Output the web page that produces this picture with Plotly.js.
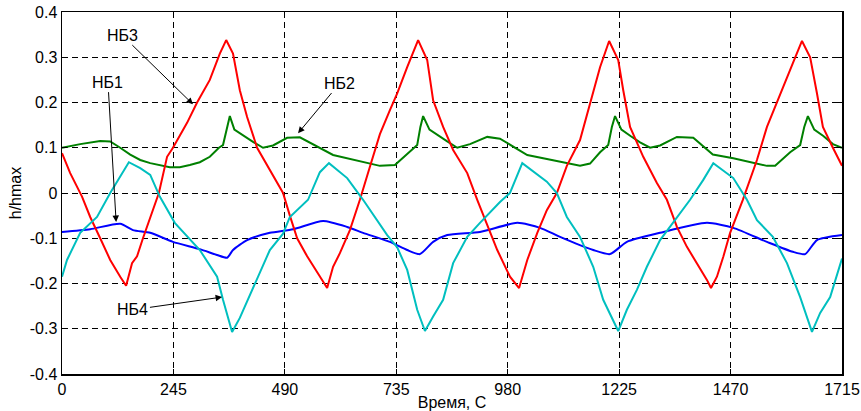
<!DOCTYPE html>
<html><head><meta charset="utf-8">
<script src="https://cdn.plot.ly/plotly-3.0.1.min.js"></script>
<style>html,body{margin:0;padding:0;background:#fff}#chart{width:861px;height:411px}</style>
</head><body><div id="chart"></div>
<script>
// НБ1 (blue)
const nb1X = [0,62,128,156,194,244,303,341,363,376,407,457,508,574,627,662,721,759,787,816,847,919,1001,1051,1095,1168,1205,1242,1315,1418,1476,1550,1607,1634,1660,1715];
const nb1Y = [-0.086,-0.080,-0.068,-0.082,-0.088,-0.108,-0.124,-0.137,-0.143,-0.126,-0.104,-0.088,-0.080,-0.062,-0.075,-0.088,-0.108,-0.126,-0.135,-0.108,-0.093,-0.086,-0.066,-0.077,-0.097,-0.126,-0.135,-0.108,-0.088,-0.066,-0.077,-0.108,-0.130,-0.135,-0.104,-0.093];
// НБ2 (green)
const nb2X = [0,40,84,106,128,150,172,194,237,259,281,303,325,345,354,363,369,379,396,420,442,464,495,523,596,699,732,752,772,781,788,794,808,828,847,869,897,935,963,1023,1117,1139,1161,1183,1201,1209,1216,1230,1250,1271,1293,1315,1352,1388,1431,1476,1550,1568,1601,1623,1632,1640,1654,1674,1695,1715];
const nb2Y = [0.100,0.108,0.115,0.114,0.100,0.085,0.073,0.066,0.057,0.057,0.062,0.068,0.080,0.100,0.106,0.146,0.170,0.140,0.128,0.113,0.100,0.105,0.122,0.123,0.084,0.060,0.062,0.080,0.100,0.106,0.146,0.170,0.140,0.126,0.114,0.100,0.108,0.124,0.120,0.084,0.065,0.060,0.065,0.090,0.106,0.146,0.170,0.140,0.126,0.112,0.100,0.105,0.124,0.122,0.085,0.077,0.060,0.060,0.090,0.106,0.146,0.170,0.140,0.126,0.108,0.100];
// НБ3 (red)
const nb3X = [0,18,44,62,84,106,128,141,154,165,178,200,213,231,244,275,297,325,347,361,376,391,407,429,457,486,501,517,539,561,583,596,611,633,655,677,699,721,737,759,783,803,816,838,860,891,913,957,985,1005,1023,1045,1066,1088,1110,1139,1168,1183,1203,1223,1234,1249,1278,1308,1330,1352,1374,1396,1418,1427,1440,1454,1469,1497,1528,1550,1579,1607,1627,1645,1660,1673,1695,1715];
const nb3Y = [0.088,0.044,-0.008,-0.053,-0.100,-0.148,-0.185,-0.205,-0.155,-0.140,-0.100,-0.038,0.000,0.080,0.100,0.155,0.200,0.250,0.308,0.338,0.308,0.227,0.168,0.100,0.050,0.000,-0.050,-0.100,-0.140,-0.175,-0.210,-0.163,-0.133,-0.082,-0.015,0.058,0.130,0.183,0.220,0.278,0.338,0.294,0.205,0.146,0.095,0.044,-0.015,-0.126,-0.185,-0.210,-0.148,-0.088,-0.038,0.000,0.060,0.117,0.227,0.278,0.336,0.294,0.227,0.146,0.080,0.022,-0.015,-0.075,-0.119,-0.155,-0.192,-0.210,-0.185,-0.141,-0.088,-0.015,0.073,0.146,0.220,0.287,0.336,0.300,0.220,0.146,0.100,0.060];
// НБ4 (cyan)
const nb4X = [0,11,40,77,106,147,172,194,215,248,303,341,354,374,391,424,457,486,501,541,567,587,627,662,715,737,759,781,798,816,838,860,891,919,963,985,1012,1066,1088,1110,1139,1168,1190,1223,1242,1264,1286,1315,1344,1381,1410,1432,1476,1506,1528,1563,1594,1623,1649,1667,1689,1715];
const nb4Y = [-0.185,-0.148,-0.088,-0.053,0.000,0.068,0.055,0.040,-0.008,-0.066,-0.126,-0.185,-0.236,-0.307,-0.276,-0.200,-0.126,-0.090,-0.053,-0.015,0.046,0.066,0.033,-0.015,-0.093,-0.120,-0.170,-0.258,-0.305,-0.273,-0.236,-0.155,-0.097,-0.066,-0.020,0.000,0.066,0.025,0.000,-0.053,-0.097,-0.163,-0.236,-0.305,-0.258,-0.214,-0.163,-0.104,-0.066,-0.015,0.029,0.066,0.033,-0.015,-0.060,-0.097,-0.155,-0.230,-0.307,-0.265,-0.230,-0.145];

const xTickVals = [0,245,490,735,980,1225,1470,1715];
const xTickText = ['0','245','490','735','980','1225','1470','1715'];
const yTickVals = [0.4,0.3,0.2,0.1,0,-0.1,-0.2,-0.3,-0.4];
const yTickText = ['0.4','0.3','0.2','0.1','0','-0.1','-0.2','-0.3','-0.4'];

const labels = ['НБ1','НБ2','НБ3','НБ4'];
const colors = ['#0000ff','#008000','#ff0000','#00bfbf'];
const shapes = ['spline','linear','linear','linear'];

const series = [[nb1X,nb1Y],[nb2X,nb2Y],[nb3X,nb3Y],[nb4X,nb4Y]];
const traces = series.map((s,i)=>({x:s[0],y:s[1],name:labels[i],type:'scatter',mode:'lines',
  line:{color:colors[i],width:2,shape:shapes[i],smoothing:0.6}}));

const fam = '"Liberation Sans", Arial, sans-serif';
const font = {family:fam, size:16, color:'#000'};
function ann(text, x, y, ax, ay){
  return {text:text, x:x, y:y, ax:ax, ay:ay, xref:'x', yref:'y', axref:'x', ayref:'y',
    showarrow:true, arrowhead:2, arrowsize:1.3, arrowwidth:1, arrowcolor:'#000',
    font:{family:fam,size:16,color:'#000'}};
}
const axisCommon = {showgrid:true, gridcolor:'#000', gridwidth:1, griddash:'6px,4px',
  zeroline:false, showline:true, linecolor:'#000', linewidth:1.5, mirror:'ticks', ticks:'inside', ticklen:5, tickcolor:'#000',
  tickfont:{family:fam,size:16,color:'#000'}};
const layout = {
  width:861, height:411,
  margin:{l:62,r:19,t:12,b:37},
  paper_bgcolor:'#fff', plot_bgcolor:'#fff',
  showlegend:false,
  font:font,
  xaxis:Object.assign({range:[0,1715], tickvals:xTickVals, ticktext:xTickText,
    title:{text:'Время, С', standoff:0, font:{family:fam,size:16,color:'#000'}}}, axisCommon),
  yaxis:Object.assign({range:[-0.4,0.4], tickvals:yTickVals, ticktext:yTickText,
    title:{text:'h/hmax', standoff:4, font:{family:fam,size:16,color:'#000'}}}, axisCommon),
  annotations:[
    ann('НБ3', 288, 0.196, 132, 0.349),
    ann('НБ1', 119, -0.064, 101, 0.245),
    ann('НБ2', 519, 0.132, 611, 0.243),
    ann('НБ4', 352, -0.230, 156, -0.258)
  ]
};
Plotly.newPlot('chart', traces, layout, {displayModeBar:false, staticPlot:true});
</script>
</body></html>
